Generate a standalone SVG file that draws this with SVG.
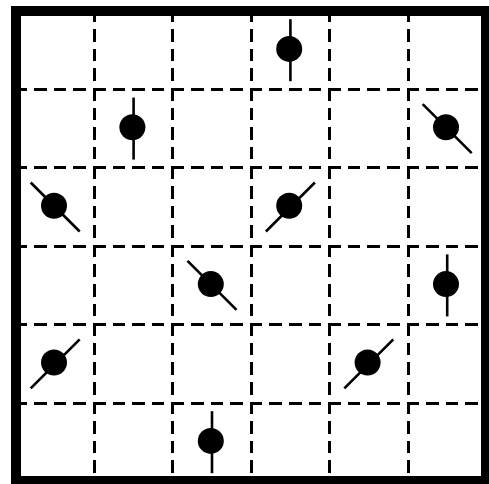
<svg xmlns="http://www.w3.org/2000/svg" xmlns:xlink="http://www.w3.org/1999/xlink" width="489" height="484" viewBox="0 0 489 484">
  <style>
    .grid line { stroke: #000; stroke-width: 3; stroke-dasharray: 12.6 7; fill: none; shape-rendering: crispEdges; }
    .border { fill: none; stroke: #000; stroke-width: 10; shape-rendering: crispEdges; }
    .stick { stroke: #000; stroke-width: 2.6; }
    .blob { fill: #000; }
  </style>
  <defs>
    <g id="v">
      <line class="stick" x1="0" y1="-31" x2="0" y2="31"/>
      <circle class="blob" cx="-1.2" cy="-1.3" r="13"/>
    </g>
    <g id="b">
      <line class="stick" x1="-24.5" y1="-24.5" x2="24.5" y2="24.5"/>
      <circle class="blob" cx="-1.2" cy="-1.3" r="13"/>
    </g>
    <g id="f">
      <line class="stick" x1="-24.5" y1="24.5" x2="24.5" y2="-24.5"/>
      <circle class="blob" cx="-1.2" cy="-1.3" r="13"/>
    </g>
  </defs>
  <rect width="489" height="484" fill="#fff"/>
  <g id="connectors" class="grid">
    <line x1="94.4" y1="9.5" x2="94.4" y2="482"/>
    <line x1="172.8" y1="9.5" x2="172.8" y2="482"/>
    <line x1="251.2" y1="9.5" x2="251.2" y2="482"/>
    <line x1="329.6" y1="9.5" x2="329.6" y2="482"/>
    <line x1="408" y1="9.5" x2="408" y2="482"/>
    <line x1="14.5" y1="89.4" x2="487" y2="89.4"/>
    <line x1="14.5" y1="167.8" x2="487" y2="167.8"/>
    <line x1="14.5" y1="246.2" x2="487" y2="246.2"/>
    <line x1="14.5" y1="324.6" x2="487" y2="324.6"/>
    <line x1="14.5" y1="403" x2="487" y2="403"/>
  </g>
  <rect class="border" x="16" y="11" width="470" height="470.4"/>
  <g id="node-r0c3"><use xlink:href="#v" x="290.4" y="50.2"/></g>
  <g id="node-r1c1"><use xlink:href="#v" x="133.6" y="128.6"/></g>
  <g id="node-r1c5"><use xlink:href="#b" x="447.2" y="128.6"/></g>
  <g id="node-r2c0"><use xlink:href="#b" x="55.2" y="207"/></g>
  <g id="node-r2c3"><use xlink:href="#f" x="290.4" y="207"/></g>
  <g id="node-r3c2"><use xlink:href="#b" x="212" y="285.4"/></g>
  <g id="node-r3c5"><use xlink:href="#v" x="447.2" y="285.4"/></g>
  <g id="node-r4c0"><use xlink:href="#f" x="55.2" y="363.8"/></g>
  <g id="node-r4c4"><use xlink:href="#f" x="368.8" y="363.8"/></g>
  <g id="node-r5c2"><use xlink:href="#v" x="212" y="442.2"/></g>
</svg>
